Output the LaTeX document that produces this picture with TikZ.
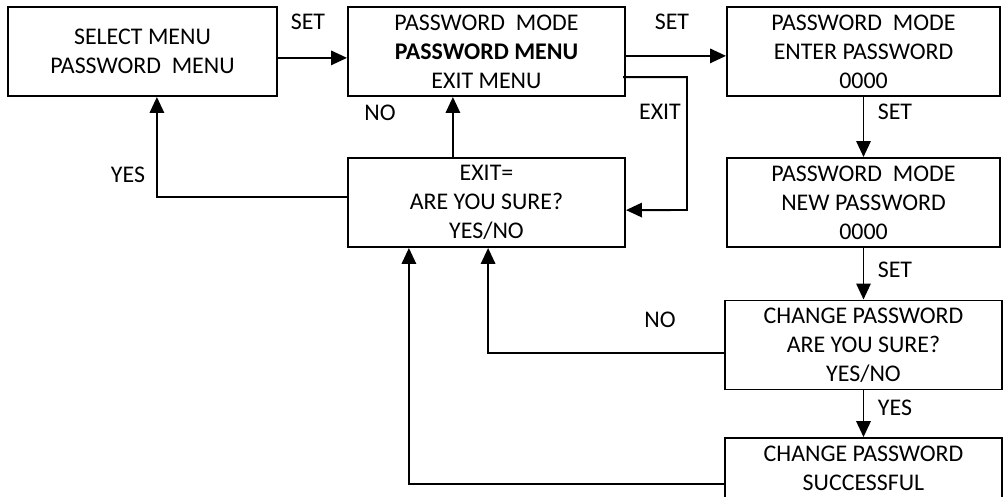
\documentclass[tikz,border=0pt]{standalone}
\usepackage{fontspec}
\setmainfont{Carlito}
\usetikzlibrary{arrows.meta}
\begin{document}
\begin{tikzpicture}[
  box/.style={draw, line width=1.4pt, minimum height=2.225cm, align=center, inner sep=0pt},
  arr/.style={line width=1.4pt, -{Triangle[length=0.4cm,width=0.36cm]}},
  every node/.style={font=\fontsize{17}{20.6}\selectfont}]
\useasboundingbox (0,0) rectangle (25.075,12.425);
\node[box, minimum width=6.725cm] (sel) at (3.5625,11.1375) {SELECT MENU\\PASSWORD\ \ MENU};
\node[box, minimum width=6.925cm] (pmenu) at (12.1625,11.1375) {PASSWORD\ \ MODE\\\textbf{PASSWORD MENU}\\EXIT MENU};
\node[box, minimum width=6.825cm] (enter) at (21.5875,11.1375) {PASSWORD\ \ MODE\\ENTER PASSWORD\\0000};
\node[box, minimum width=6.925cm] (exit) at (12.1625,7.3625) {EXIT=\\ARE YOU SURE?\\YES/NO};
\node[box, minimum width=6.825cm] (new) at (21.5875,7.3625) {PASSWORD\ \ MODE\\NEW PASSWORD\\0000};
\node[box, minimum width=6.925cm] (sure) at (21.5875,3.8) {CHANGE PASSWORD\\ARE YOU SURE?\\YES/NO};
\node[box, minimum width=6.925cm] (done) at (21.5875,0.36) {CHANGE PASSWORD\\SUCCESSFUL\\\mbox{}};
\coordinate (exitcorner) at (17.175,7.175);
% labels
\node (set1) at (7.7,11.875) {SET};
\node (set2) at (16.8,11.875) {SET};
\node (no1) at (9.5,9.6) {NO};
\node (exitlbl) at (16.5,9.625) {EXIT};
\node (yes1) at (3.2,8.05) {YES};
\node (set3) at (22.375,9.625) {SET};
\node (set4) at (22.375,5.675) {SET};
\node (no2) at (16.5,4.425) {NO};
\node (yes2) at (22.375,2.225) {YES};
% connectors
\draw[arr] ([yshift=-0.16cm]sel.east) -- ([yshift=-0.16cm]pmenu.west);
\draw[arr] ([yshift=-0.11cm]pmenu.east) -- ([yshift=-0.11cm]enter.west);
\draw[arr] ([xshift=-0.07cm,yshift=-0.64cm]pmenu.east) -| (exitcorner) -- ([yshift=-0.19cm]exit.east);
\draw[arr] ([xshift=-0.84cm]exit.north) -- ([xshift=-0.84cm]pmenu.south);
\draw[arr] ([yshift=0.14cm]exit.west) -| ([xshift=0.36cm]sel.south);
\draw[arr] (enter) -- (new);
\draw[arr] (new) -- (sure);
\draw[arr] (sure) -- (done);
\draw[arr] ([yshift=-0.2cm]sure.west) -| ([xshift=0.04cm]exit.south);
\draw[arr] ([yshift=-0.04cm]done.west) -| ([xshift=-1.94cm]exit.south);
\end{tikzpicture}
\end{document}
